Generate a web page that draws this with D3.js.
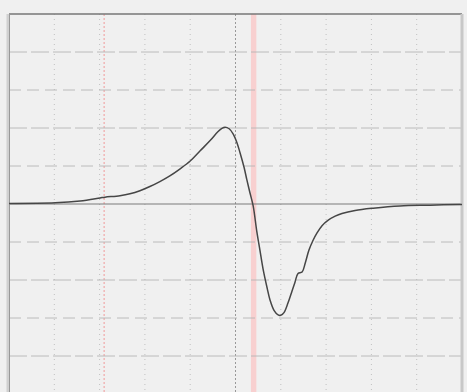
<!DOCTYPE html>
<html>
<head>
<meta charset="utf-8">
<script src="https://cdn.jsdelivr.net/npm/d3@7"></script>
<style>
  html, body { margin: 0; padding: 0; background: #f0f0f0; }
  #environment { width: 467px; height: 392px; overflow: hidden; }
</style>
</head>
<body>
<div id="environment"></div>
<script>
"use strict";

// signal trace, x and y in screen divisions
var fieldValues = [-5.0, -3.98, -3.43, -2.99, -2.88, -2.55, -2.33, -2.11, -1.89, -1.67, -1.45, -1.23,
  -1.0, -0.78, -0.56, -0.39, -0.30, -0.23, -0.14, -0.05, 0.03, 0.10, 0.19, 0.25, 0.32, 0.39,
  0.47, 0.54, 0.61, 0.70, 0.76, 0.85, 0.94, 1.0, 1.07, 1.16, 1.25, 1.31, 1.38, 1.47, 1.54,
  1.62, 1.71, 1.80, 1.91, 2.04, 2.20, 2.35, 2.64, 3.04, 3.63, 4.30, 5.0];
var signalValues = [0.013, 0.03, 0.08, 0.16, 0.18, 0.22, 0.27, 0.35, 0.46, 0.59, 0.74, 0.92,
  1.13, 1.40, 1.67, 1.90, 1.99, 2.02, 1.98, 1.84, 1.62, 1.35, 0.96, 0.64, 0.29, -0.05,
  -0.72, -1.22, -1.72, -2.22, -2.52, -2.80, -2.92, -2.93, -2.86, -2.60, -2.28, -2.07, -1.83, -1.79, -1.55,
  -1.22, -0.96, -0.76, -0.57, -0.43, -0.32, -0.25, -0.17, -0.11, -0.05, -0.03, -0.01];

// grid divisions and marker positions
var divisionTicks = [-5, -4, -3, -2, -1, 0, 1, 2, 3, 4, 5];
var markerLine = -2.9;
var markerBand = [0.34, 0.46];

var svg;
var w = 467,
  h = 392;
var plotLeft = 9, plotRight = 462, plotTop = 14, plotBottom = 394;

var x = d3.scaleLinear().domain([-5, 5]).range([plotLeft, plotRight]);
var y = d3.scaleLinear().domain([-5, 5]).range([plotBottom, plotTop]);

/**
 * Initialize the environment.
 */
var initEnvironment = function () {
  svg = d3.select("#environment").insert("svg").attr("width", w).attr("height", h);
  svg.append("rect").attr("width", w).attr("height", h).attr("fill", "#f0f0f0");
};

/**
 * Draw the graticule and the markers.
 */
var drawGrid = function () {
  // red marker band and line
  svg.append("rect")
    .attr("x", x(markerBand[0]))
    .attr("y", plotTop)
    .attr("width", x(markerBand[1]) - x(markerBand[0]))
    .attr("height", plotBottom - plotTop)
    .attr("fill", "#f8d0d0");
  svg.append("line")
    .attr("x1", x(markerLine)).attr("x2", x(markerLine))
    .attr("y1", plotTop).attr("y2", plotBottom)
    .attr("stroke", "#f0a8a8")
    .attr("stroke-width", 1.2)
    .attr("stroke-dasharray", "2,2");

  // vertical divisions
  svg.selectAll(".vgrid")
    .data(divisionTicks.slice(1, -1))
    .enter().append("line")
    .attr("class", "vgrid")
    .attr("x1", function (d) { return x(d); })
    .attr("x2", function (d) { return x(d); })
    .attr("y1", plotTop).attr("y2", plotBottom)
    .attr("stroke", function (d) { return d === 0 ? "#999" : "#c0c0c0"; })
    .attr("stroke-width", 1)
    .attr("stroke-dasharray", function (d) { return d === 0 ? "2,2" : "1,4"; });

  // horizontal divisions
  svg.selectAll(".hgrid")
    .data(divisionTicks.slice(1, -1))
    .enter().append("line")
    .attr("class", "hgrid")
    .attr("x1", plotLeft).attr("x2", plotRight)
    .attr("y1", function (d) { return y(d); })
    .attr("y2", function (d) { return y(d); })
    .attr("stroke", function (d) { return d === 0 ? "#7a7a7a" : "#b4b4b4"; })
    .attr("stroke-width", function (d) { return d === 0 ? 1.2 : 0.9; })
    .attr("stroke-dasharray", function (d) {
      if (d === 0) return null;
      return Math.abs(d) % 2 === 0 ? "18,4" : "12,6";
    });

  // frame
  svg.append("line")
    .attr("x1", plotLeft).attr("x2", plotRight)
    .attr("y1", plotTop).attr("y2", plotTop)
    .attr("stroke", "#777").attr("stroke-width", 1.5);
  svg.append("line")
    .attr("x1", plotLeft - 1).attr("x2", plotLeft - 1)
    .attr("y1", plotTop).attr("y2", plotBottom)
    .attr("stroke", "#d0d0d0").attr("stroke-width", 3);
  svg.append("line")
    .attr("x1", plotLeft + 0.5).attr("x2", plotLeft + 0.5)
    .attr("y1", plotTop).attr("y2", plotBottom)
    .attr("stroke", "#999").attr("stroke-width", 1);
  svg.append("line")
    .attr("x1", plotRight).attr("x2", plotRight)
    .attr("y1", plotTop).attr("y2", plotBottom)
    .attr("stroke", "#c8c8c8").attr("stroke-width", 3);
};

/**
 * Draw the trace.
 */
var drawTrace = function () {
  var points = fieldValues.map(function (f, i) {
    return [f, signalValues[i]];
  });
  var line = d3.line()
    .x(function (d) { return x(d[0]); })
    .y(function (d) { return y(d[1]); })
    .curve(d3.curveCatmullRom.alpha(0.5));
  svg.append("path")
    .datum(points)
    .attr("d", line)
    .attr("fill", "none")
    .attr("stroke", "#464646")
    .attr("stroke-width", 1.5);
};

initEnvironment();
drawGrid();
drawTrace();
</script>
</body>
</html>
